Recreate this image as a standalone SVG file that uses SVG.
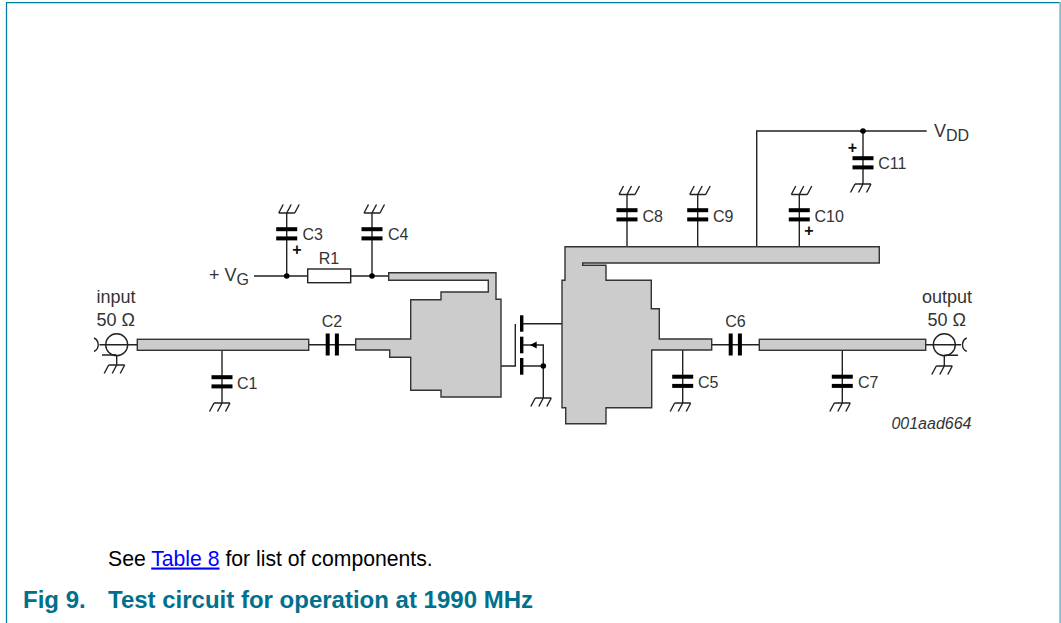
<svg xmlns="http://www.w3.org/2000/svg" width="1061" height="623" viewBox="0 0 1061 623">
<defs>
<path id="gd" d="M-8 0H8M-8 0L-12.500 8.500M0 0L-4.500 8.500M8 0L3.500 8.500" fill="none" stroke="#222" stroke-width="1.400"/>
<path id="gu" d="M-8 0H8M-8 0L-3.500 -8.500M0 0L4.500 -8.500M8 0L12.500 -8.500" fill="none" stroke="#222" stroke-width="1.400"/>
<g id="capv"><rect x="-10.500" y="-6.800" width="21" height="4"/><rect x="-10.500" y="2.400" width="21" height="4"/></g>
<g id="caph"><rect x="-6.800" y="-11" width="4" height="22"/><rect x="2.400" y="-11" width="4" height="22"/></g>
</defs>
<style>
text{font-family:"Liberation Sans",Arial,sans-serif;fill:#333;font-size:16px}
.w{fill:none;stroke:#222;stroke-width:1.400}
.pad{fill:#ccc;stroke:#333;stroke-width:1.400}
.dot{fill:#000}
.big{font-size:18px}
.blk{fill:#000;font-size:21.200px}
.lnk{fill:#0000ff;text-decoration:underline}
.fig{fill:#00708c;font-weight:bold;font-size:24px}
.pl{fill:#111;font-weight:bold}
</style>
<rect width="1061" height="623" fill="#fff"/>
<g id="frame"><path d="M6.500 623V2.700H1060" fill="none" stroke="#0080a0" stroke-width="1.300"/><rect x="1059.300" y="2" width="1.700" height="621" fill="#7fbccb"/></g>
<g id="connectors">
<path class="w" d="M254 276H307.700M350.700 276H388.700M286.700 213V276M372 213V276"/>
<path class="w" d="M99.500 344.700H137.300M308.700 344.700H355.700M222 350V403M116.700 355V365"/>
<path class="w" d="M711.700 344.700H759.300M925.700 344.700H961M682.700 350V403M842.300 350V403M944.300 355V366"/>
<path class="w" d="M627 194.500V246.700M697.700 194.500V246.700M799.300 194.500V246.700M756.700 246.700V131H926.700M863 131V184"/>
<path class="w" d="M501 366H515.300V324M522 323.700H562M522 345H543.300V398M522 366H543.300"/>
<path class="w" d="M102 355H116.700M944.300 355.300H958M94 338A7.500 7.500 0 0 1 94 351.500M966.700 338A7.500 7.500 0 0 0 966.700 351.500"/>
</g>
<g id="strip-in"><rect class="pad" x="137.300" y="339.300" width="171.400" height="11"/></g>
<g id="strip-out"><rect class="pad" x="759.300" y="339.300" width="166.400" height="11"/></g>
<g id="gate-pad"><path class="pad" d="M355.700 339H410.700V299.700H441V292H488.300V280.300H388.700V272.700H496V299.300H501V397H441V390.300H410.700V357.300H389.700V350H355.700Z"/></g>
<g id="drain-pad"><path class="pad" d="M565 246.700H879.300V263H582.700V265.300H606V280.300H651.300V308.700H659.300V339H711.700V350H651.700V407.700H606V423.700H565.700V407.700H562V280.300H565Z"/></g>
<g id="R1"><rect x="307.700" y="269" width="43" height="13.700" fill="#fff" stroke="#222" stroke-width="1.400"/><text x="329" y="264" text-anchor="middle">R1</text></g>
<g id="C1"><use href="#capv" x="222" y="382"/><use href="#gd" x="222" y="403"/><text x="237" y="389">C1</text></g>
<g id="C2"><use href="#caph" x="332.500" y="344.500"/><text x="332" y="326.500" text-anchor="middle">C2</text></g>
<g id="C3"><use href="#capv" x="286.700" y="234"/><use href="#gu" x="286.700" y="213"/><text x="302.500" y="240">C3</text><text class="pl" x="297" y="254.500" text-anchor="middle">+</text></g>
<g id="C4"><use href="#capv" x="372" y="234"/><use href="#gu" x="372" y="213"/><text x="388" y="240">C4</text></g>
<g id="C5"><use href="#capv" x="682.700" y="381.500"/><use href="#gd" x="682.700" y="403"/><text x="698" y="388">C5</text></g>
<g id="C6"><use href="#caph" x="735.500" y="344.500"/><text x="735.500" y="326.500" text-anchor="middle">C6</text></g>
<g id="C7"><use href="#capv" x="842.300" y="381.500"/><use href="#gd" x="842.300" y="403"/><text x="858" y="388">C7</text></g>
<g id="C8"><use href="#capv" x="627" y="215"/><use href="#gu" x="627" y="194.500"/><text x="642.500" y="221.500">C8</text></g>
<g id="C9"><use href="#capv" x="697.700" y="215"/><use href="#gu" x="697.700" y="194.500"/><text x="713" y="221.500">C9</text></g>
<g id="C10"><use href="#capv" x="799.300" y="215"/><use href="#gu" x="799.300" y="194.500"/><text x="814.500" y="221.500">C10</text><text class="pl" x="809" y="235.500" text-anchor="middle">+</text></g>
<g id="C11"><use href="#capv" x="863" y="163"/><use href="#gd" x="863" y="184"/><text x="878.300" y="169">C11</text><text class="pl" x="852.500" y="153" text-anchor="middle">+</text></g>
<g id="Q1">
<rect x="520" y="315.300" width="3.400" height="16.400"/><rect x="520" y="336.700" width="3.400" height="16.600"/><rect x="520" y="358" width="3.400" height="16.700"/>
<path d="M530 345L536.700 341.500V348.500Z"/>
<use href="#gd" x="543.300" y="398"/>
</g>
<g id="input">
<circle cx="116.700" cy="344.700" r="11" fill="none" stroke="#222" stroke-width="1.400"/>
<use href="#gd" x="116.700" y="365"/>
<text class="big" x="96.500" y="303">input</text><text class="big" x="96.500" y="326">50 Ω</text>
</g>
<g id="output">
<circle cx="944.300" cy="344.700" r="11" fill="none" stroke="#222" stroke-width="1.400"/>
<use href="#gd" x="944.300" y="366"/>
<text class="big" x="972" y="303" text-anchor="end">output</text><text class="big" x="966" y="325.500" text-anchor="end">50 Ω</text>
</g>
<g id="dots"><circle class="dot" cx="286.700" cy="276" r="2.800"/><circle class="dot" cx="372" cy="276" r="2.800"/><circle class="dot" cx="543.300" cy="366" r="2.800"/><circle class="dot" cx="863" cy="131" r="2.800"/></g>
<g id="VG"><text class="big" x="209" y="280.500">+ V<tspan dy="4" style="font-size:16px">G</tspan></text></g>
<g id="VDD"><text class="big" x="934" y="136.700">V<tspan dy="4" style="font-size:16px">DD</tspan></text></g>
<text x="971.500" y="429" text-anchor="end" font-style="italic">001aad664</text>
<text class="blk" x="108" y="565.500">See <tspan class="lnk">Table 8</tspan> for list of components.</text>
<text class="fig" x="23" y="607.500">Fig 9.</text>
<text class="fig" x="108" y="607.500">Test circuit for operation at 1990 MHz</text>
</svg>
